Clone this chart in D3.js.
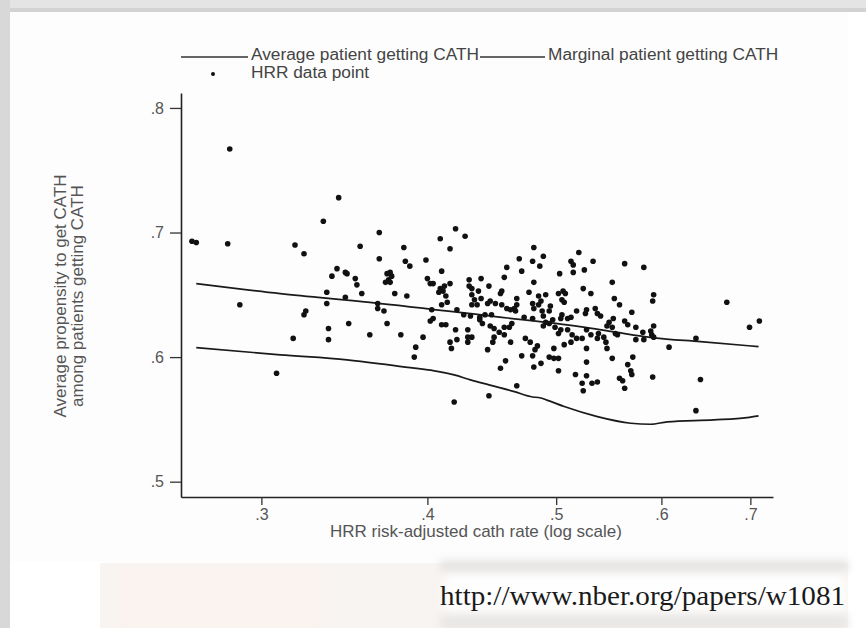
<!DOCTYPE html>
<html><head><meta charset="utf-8">
<script src="https://cdn.jsdelivr.net/npm/d3@7"></script>
<style>
html,body{margin:0;padding:0;background:#fff;}
svg{display:block;font-family:"Liberation Sans",Arial,sans-serif;}
</style></head>
<body>
<svg id="chart" width="866" height="628"></svg>
<script>
// ---- data ----
const xTicks = [0.3, 0.4, 0.5, 0.6, 0.7];
const yTicks = [0.5, 0.6, 0.7, 0.8];
const legendLabels = ["Average patient getting CATH", "Marginal patient getting CATH", "HRR data point"];
const xTitle = "HRR risk-adjusted cath rate (log scale)";
const yTitleLines = ["Average propensity to get CATH", "among patients getting CATH"];
const sourceUrl = "http://www.nber.org/papers/w1081";

const averageLine = [[.268,.659],[.310,.651],[.362,.644],[.450,.6325],[.521,.6245],[.554,.620],[.592,.6155],[.642,.6124],[.710,.6084]];
const marginalLine = [[.268,.6076],[.310,.6018],[.348,.5978],[.391,.5911],[.404,.5892],[.419,.5857],[.431,.5817],[.445,.5777],[.465,.5723],[.480,.5680],[.486,.5674],[.492,.5655],[.507,.5603],[.537,.5522],[.569,.5469],[.589,.5461],[.606,.5480],[.657,.5496],[.696,.5514],[.710,.5528]];

const hrrPoints = [
[.284,.767],[.343,.728],[.334,.709],[.266,.693],[.268,.692],[.283,.691],[.318,.690],[.323,.683],[.356,.689],[.420,.703],[.427,.697],[.409,.695],[.342,.671],[.339,.665],[.347,.668],[.348,.667],[.353,.663],[.354,.658],[.336,.652],[.357,.651],[.347,.648],[.289,.642],[.308,.587],[.317,.615],[.323,.634],[.324,.637],[.336,.643],[.337,.623],[.337,.614],[.349,.627],
[.563,.675],[.582,.672],[.592,.650],
[.558,.583],[.561,.581],[.563,.575],[.566,.594],[.569,.589],[.570,.586],[.571,.600],[.556,.618],[.591,.584],[.608,.608],[.637,.615],[.642,.582],[.637,.557],[.672,.644],[.699,.624],[.711,.629],[.591,.645],[.558,.642],[.570,.636],[.563,.629],[.566,.626],[.574,.624],[.581,.620],[.589,.621],[.592,.625],[.590,.618],[.592,.616],[.574,.614],[.582,.614],[.554,.619],[.553,.647],
[.384,.688],[.416,.687],[.368,.679],[.385,.677],[.388,.673],[.399,.678],[.410,.669],[.373,.667],[.375,.668],[.376,.665],[.374,.662],[.375,.660],[.372,.660],[.400,.663],[.402,.659],[.404,.659],[.416,.659],[.412,.657],[.409,.655],[.408,.652],[.411,.653],[.430,.662],[.439,.663],[.445,.657],[.430,.657],[.432,.655],[.437,.653],[.378,.651],[.386,.649],[.413,.649],[.432,.650],[.434,.646],[.439,.647],[.432,.642],[.436,.642],[.446,.645],[.444,.643],[.367,.643],[.367,.639],[.410,.642],[.414,.644],[.371,.637],[.421,.638],[.426,.634],[.431,.633],[.438,.632],[.442,.634],[.447,.634],[.403,.638],[.404,.631],[.402,.629],[.410,.626],[.413,.626],[.373,.627],[.438,.630],[.440,.627],[.446,.625],[.449,.623],[.362,.618],[.382,.618],[.420,.622],[.429,.622],[.397,.616],[.421,.614],[.429,.616],[.432,.616],[.416,.612],[.417,.607],[.429,.612],[.392,.608],[.391,.600],[.444,.606],[.419,.564],[.445,.569],
[.481,.688],[.489,.681],[.469,.679],[.480,.677],[.520,.684],[.513,.677],[.515,.674],[.533,.677],[.515,.668],[.525,.670],[.486,.673],[.459,.672],[.471,.669],[.503,.667],[.457,.664],[.481,.660],[.551,.660],[.455,.653],[.454,.651],[.477,.652],[.491,.650],[.485,.649],[.487,.645],[.485,.642],[.502,.651],[.506,.653],[.508,.651],[.505,.646],[.507,.644],[.524,.655],[.531,.651],[.467,.647],[.467,.642],[.465,.639],[.450,.643],[.455,.642],[.459,.639],[.462,.638],[.466,.637],[.480,.643],[.481,.639],[.495,.641],[.494,.637],[.518,.637],[.527,.638],[.526,.635],[.535,.639],[.537,.635],[.540,.633],[.505,.634],[.504,.631],[.510,.631],[.513,.632],[.473,.632],[.480,.631],[.488,.637],[.489,.633],[.491,.628],[.489,.625],[.494,.627],[.497,.630],[.548,.628],[.551,.624],[.546,.625],[.552,.631],[.453,.620],[.457,.624],[.463,.627],[.461,.624],[.499,.624],[.504,.622],[.502,.619],[.510,.622],[.514,.618],[.518,.615],[.523,.615],[.527,.622],[.531,.618],[.537,.615],[.538,.619],[.543,.616],[.545,.612],[.546,.607],[.551,.599],[.449,.616],[.448,.612],[.457,.618],[.462,.612],[.474,.615],[.478,.612],[.484,.609],[.482,.606],[.498,.607],[.507,.610],[.513,.612],[.527,.607],[.471,.601],[.480,.601],[.494,.600],[.498,.599],[.502,.599],[.458,.597],[.454,.591],[.487,.595],[.481,.592],[.527,.596],[.502,.589],[.517,.586],[.527,.585],[.523,.579],[.532,.579],[.537,.580],[.524,.573],[.467,.577],[.368,.700]
];

// ---- drawing ----
const svg = d3.select("#chart");

// page frame
svg.append("rect").attr("x",0).attr("y",0).attr("width",866).attr("height",628).attr("fill","#ffffff");
svg.append("rect").attr("x",10).attr("y",12).attr("width",838).attr("height",550).attr("fill","#fdfdfd");
svg.append("rect").attr("x",0).attr("y",0).attr("width",866).attr("height",12).attr("fill","#e4e4e4");
svg.append("rect").attr("x",0).attr("y",8).attr("width",866).attr("height",4).attr("fill","#d2d2d2");
svg.append("rect").attr("x",0).attr("y",0).attr("width",10).attr("height",628).attr("fill","#d8d8d8");

// bottom blurred strip with URL
const defs = svg.append("defs");
defs.append("filter").attr("id","blur").attr("x","-10%").attr("y","-50%").attr("width","120%").attr("height","200%")
  .append("feGaussianBlur").attr("stdDeviation",4);
svg.append("rect").attr("x",100).attr("y",563).attr("width",748).attr("height",65).attr("fill","#f8f4f1");
const strip = svg.append("g").attr("filter","url(#blur)");
strip.append("rect").attr("x",440).attr("y",560).attr("width",408).attr("height",12).attr("fill","#e6e4e3");
strip.append("rect").attr("x",440).attr("y",614).attr("width",408).attr("height",16).attr("fill","#e9e7e6");
strip.append("rect").attr("x",445).attr("y",574).attr("width",400).attr("height",38).attr("fill","#fefefe");
strip.append("rect").attr("x",120).attr("y",568).attr("width",200).attr("height",60).attr("fill","#fbf3ef");
svg.append("text").attr("x",845).attr("y",605).attr("text-anchor","end")
  .attr("font-family","'Liberation Serif','Times New Roman',serif").attr("font-size",27)
  .attr("fill","#1a1a1a").attr("textLength",405).attr("lengthAdjust","spacingAndGlyphs")
  .text(sourceUrl);

// scales
const x = d3.scaleLog().domain([0.261, 0.728]).range([181, 773]);
const y = d3.scaleLinear().domain([0.4877, 0.812]).range([497, 93]);
const fmt = d => d3.format(".1f")(d).replace(/^0/, "");

// axes
const yAxis = svg.append("g").attr("transform","translate(181,0)")
  .call(d3.axisLeft(y).tickValues(yTicks).tickFormat(fmt).tickSize(11).tickSizeOuter(0).tickPadding(6));
const xAxis = svg.append("g").attr("transform","translate(0,497)")
  .call(d3.axisBottom(x).tickValues(xTicks).tickFormat(fmt).tickSize(8).tickSizeOuter(0).tickPadding(4));
[yAxis, xAxis].forEach(a => {
  a.select(".domain").attr("stroke","#222").attr("stroke-width",1.6);
  a.selectAll(".tick line").attr("stroke","#333").attr("stroke-width",1.3);
  a.selectAll(".tick text").attr("fill","#555").attr("font-size",16)
    .attr("font-family","'Liberation Sans',Arial,sans-serif");
});

// titles
svg.append("text").attr("x",476).attr("y",537).attr("text-anchor","middle")
  .attr("font-size",17).attr("fill","#555").text(xTitle);
yTitleLines.forEach((t,i) => {
  svg.append("text").attr("transform",`translate(${65.5 + i*17},296) rotate(-90)`)
    .attr("text-anchor","middle").attr("font-size",17).attr("fill","#555").text(t);
});

// legend
const leg = svg.append("g");
leg.append("line").attr("x1",181).attr("x2",248).attr("y1",57).attr("y2",57).attr("stroke","#333").attr("stroke-width",1.4);
leg.append("text").attr("x",251).attr("y",60).attr("font-size",17.3).attr("fill","#444").text(legendLabels[0]);
leg.append("line").attr("x1",480).attr("x2",545).attr("y1",57).attr("y2",57).attr("stroke","#333").attr("stroke-width",1.4);
leg.append("text").attr("x",548).attr("y",60).attr("font-size",17.3).attr("fill","#444").text(legendLabels[1]);
leg.append("circle").attr("cx",213).attr("cy",74).attr("r",2).attr("fill","#111");
leg.append("text").attr("x",251).attr("y",78).attr("font-size",17.3).attr("fill","#444").text(legendLabels[2]);

// lines
const line = d3.line().x(d => x(d[0])).y(d => y(d[1])).curve(d3.curveMonotoneX);
svg.append("path").datum(averageLine).attr("d",line).attr("fill","none").attr("stroke","#1a1a1a").attr("stroke-width",1.7);
svg.append("path").datum(marginalLine).attr("d",line).attr("fill","none").attr("stroke","#1a1a1a").attr("stroke-width",1.7);

// points
svg.append("g").selectAll("circle").data(hrrPoints).join("circle")
  .attr("cx", d => x(d[0])).attr("cy", d => y(d[1])).attr("r", 2.8).attr("fill","#111");
</script>
</body></html>
